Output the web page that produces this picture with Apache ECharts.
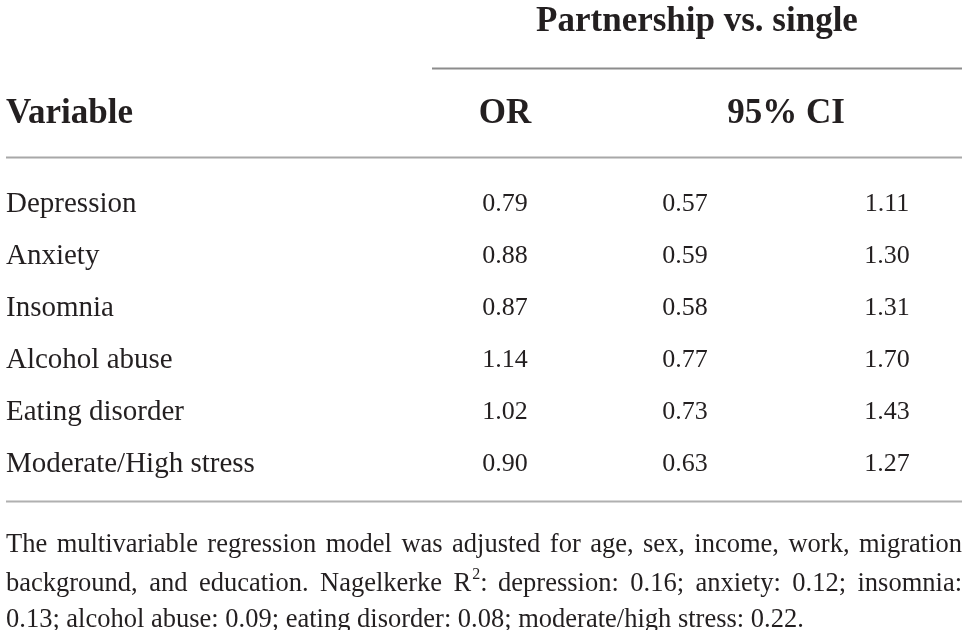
<!DOCTYPE html>
<html>
<head>
<meta charset="utf-8">
<script src="https://cdn.jsdelivr.net/npm/echarts@6/dist/echarts.min.js"></script>
<style>
html, body { margin: 0; padding: 0; background: #fff; }
#main { width: 968px; height: 630px; }
</style>
</head>
<body>
<div id="main"></div>
<script>
// table content
var variables = ['Depression', 'Anxiety', 'Insomnia', 'Alcohol abuse', 'Eating disorder', 'Moderate/High stress'];
var orValues = [0.79, 0.88, 0.87, 1.14, 1.02, 0.90];
var ciLower = [0.57, 0.59, 0.58, 0.77, 0.73, 0.63];
var ciUpper = [1.11, 1.30, 1.31, 1.70, 1.43, 1.27];
var groupTitle = 'Partnership vs. single';
var colHeaders = ['Variable', 'OR', '95% CI'];
var footLines = [
  'The multivariable regression model was adjusted for age, sex, income, work, migration',
  'background, and education. Nagelkerke R^2: depression: 0.16; anxiety: 0.12; insomnia:',
  '0.13; alcohol abuse: 0.09; eating disorder: 0.08; moderate/high stress: 0.22.'
];

// layout (pixels)
var colX = { name: 6, or: 505, lo: 685, hi: 887 };
var serif = '"Liberation Serif", "Times New Roman", serif';
var ink = '#231f20';

var chart = echarts.init(document.getElementById('main'), null, { renderer: 'canvas' });

function cells(vals, x, fmt) {
  return vals.map(function (v, i) { return [x, variables[i], fmt ? v.toFixed(2) : v]; });
}

function cellSeries(data, align, size) {
  return {
    type: 'scatter',
    symbolSize: 0,
    silent: true,
    data: data,
    itemStyle: { opacity: 1 },
    label: {
      show: true,
      position: [0, 0],
      align: align,
      verticalAlign: 'middle',
      formatter: function (p) { return p.value[2]; },
      fontFamily: serif,
      fontSize: size,
      color: ink,
      opacity: 1,
      textBorderWidth: 0
    }
  };
}

// justified footnote, one text element per word
var measure = document.createElement('canvas').getContext('2d');
var footSize = 26.5;
var supSize = 16;
function textW(t, size) {
  measure.font = size + 'px ' + serif;
  return measure.measureText(t).width;
}
function wordWidth(w) {
  if (w.indexOf('^') >= 0) {
    var parts = w.split('^');
    return textW(parts[0], footSize) + textW(parts[1][0], supSize) + textW(parts[1].slice(1), footSize);
  }
  return textW(w, footSize);
}
function wordText(t, x, y, size) {
  return { type: 'text', x: x, y: y, style: { text: t, font: size + 'px ' + serif, fill: ink, textVerticalAlign: 'middle' } };
}
var footEls = [];
var footMid = [545, 584, 620];
footLines.forEach(function (line, li) {
  var words = line.split(' ');
  var widths = words.map(wordWidth);
  var sum = widths.reduce(function (a, b) { return a + b; }, 0);
  var last = li === footLines.length - 1;
  var gap = last ? textW(' ', footSize) : (956 - sum) / (words.length - 1);
  var x = 6;
  words.forEach(function (w, wi) {
    if (w.indexOf('^') >= 0) {
      var parts = w.split('^');
      var bw = textW(parts[0], footSize);
      var sw = textW(parts[1][0], supSize);
      footEls.push(wordText(parts[0], x, footMid[li], footSize));
      footEls.push(wordText(parts[1][0], x + bw + 1, footMid[li] - 9, supSize));
      footEls.push(wordText(parts[1].slice(1), x + bw + sw + 1, footMid[li], footSize));
    } else {
      footEls.push(wordText(w, x, footMid[li], footSize));
    }
    x += widths[wi] + gap;
  });
});

var headFont = 'bold 35px ' + serif;

var option = {
  backgroundColor: '#ffffff',
  animation: false,
  grid: { left: 0, right: 0, top: 178, height: 312, containLabel: false },
  xAxis: { type: 'value', min: 0, max: 968, show: false },
  yAxis: { type: 'category', data: variables, inverse: true, show: false },
  series: [
    cellSeries(variables.map(function (v) { return [colX.name, v, v]; }), 'left', 29),
    cellSeries(cells(orValues, colX.or, true), 'center', 26),
    cellSeries(cells(ciLower, colX.lo, true), 'center', 26),
    cellSeries(cells(ciUpper, colX.hi, true), 'center', 26)
  ],
  graphic: [
    { type: 'text', x: 697, y: 22, style: { text: groupTitle, font: headFont, fill: ink, textAlign: 'center', textVerticalAlign: 'middle' } },
    { type: 'line', shape: { x1: 432, y1: 68.5, x2: 962, y2: 68.5 }, style: { stroke: '#8c8c8c', lineWidth: 2 } },
    { type: 'text', x: 6, y: 114, style: { text: colHeaders[0], font: headFont, fill: ink, textAlign: 'left', textVerticalAlign: 'middle' } },
    { type: 'text', x: colX.or, y: 114, style: { text: colHeaders[1], font: headFont, fill: ink, textAlign: 'center', textVerticalAlign: 'middle' } },
    { type: 'text', x: 786, y: 114, style: { text: colHeaders[2], font: headFont, fill: ink, textAlign: 'center', textVerticalAlign: 'middle' } },
    { type: 'line', shape: { x1: 6, y1: 157.5, x2: 962, y2: 157.5 }, style: { stroke: '#a8a8a8', lineWidth: 2 } },
    { type: 'line', shape: { x1: 6, y1: 501.5, x2: 962, y2: 501.5 }, style: { stroke: '#b0b0b0', lineWidth: 2 } }
  ].concat(footEls)
};

chart.setOption(option);
</script>
</body>
</html>
